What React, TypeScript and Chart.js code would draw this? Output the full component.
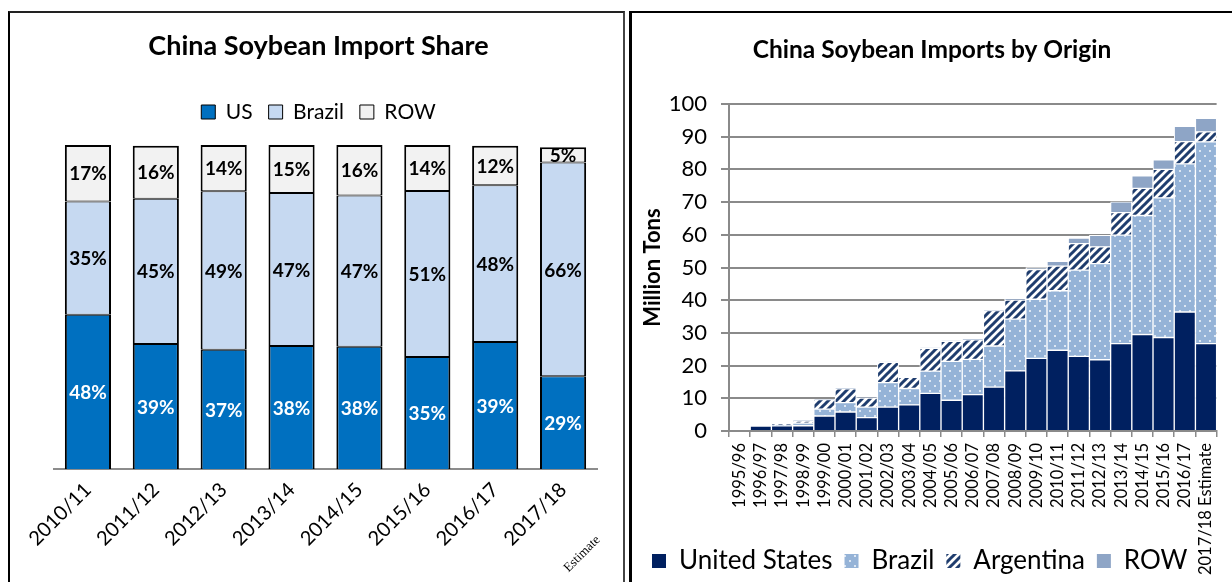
import React, { useEffect, useRef } from 'react';
import { Chart, registerables } from 'chart.js';

Chart.register(...registerables);

// ---------- Data: China Soybean Import Share (%) ----------
const shareCategories = ['2010/11', '2011/12', '2012/13', '2013/14', '2014/15', '2015/16', '2016/17', '2017/18'];
const shareSeriesNames = ['US', 'Brazil', 'ROW'];
const shareUS = [47.6, 38.6, 36.8, 38.0, 37.7, 34.6, 39.2, 28.6];
const shareBrazil = [35.0, 44.8, 48.9, 47.2, 46.7, 51.2, 48.4, 66.0];
const shareROW = [17.4, 16.4, 14.3, 14.8, 15.6, 14.2, 12.2, 4.7];
const shareNote = 'Estimate';

// ---------- Data: China Soybean Imports by Origin (million tons) ----------
const originCategories = [
  '1995/96', '1996/97', '1997/98', '1998/99', '1999/00', '2000/01', '2001/02', '2002/03',
  '2003/04', '2004/05', '2005/06', '2006/07', '2007/08', '2008/09', '2009/10', '2010/11',
  '2011/12', '2012/13', '2013/14', '2014/15', '2015/16', '2016/17', '2017/18 Estimate',
];
const originSeriesNames = ['United States', 'Brazil', 'Argentina', 'ROW'];
const originUS = [0, 1.5, 1.6, 1.6, 4.6, 5.8, 4.1, 7.3, 8.0, 11.5, 9.4, 11.1, 13.4, 18.4, 22.2, 24.7, 22.8, 21.8, 26.7, 29.5, 28.6, 36.4, 26.7];
const originBrazil = [0, 0, 0.3, 0.8, 2.1, 2.9, 3.2, 7.5, 5.0, 6.8, 11.9, 10.8, 12.6, 15.8, 18.1, 18.2, 26.4, 29.4, 33.2, 36.4, 42.7, 45.3, 61.7];
const originArgentina = [0, 0, 0.3, 0.6, 2.9, 4.2, 2.8, 6.2, 3.4, 7.0, 6.1, 6.0, 10.8, 5.8, 9.1, 7.5, 8.1, 5.1, 6.9, 8.3, 8.7, 6.8, 3.1];
const originROW = [0, 0, 0, 0.2, 0.1, 0.1, 0.1, 0.1, 0, 0.1, 0.2, 0.2, 0.2, 0.4, 0.6, 1.5, 1.7, 3.5, 3.3, 3.8, 2.9, 4.7, 4.1];
const originYMin = 0;
const originYMax = 100;
const originYStep = 10;

const FONT = "Lato, 'Open Sans', 'DejaVu Sans', sans-serif";
Chart.defaults.font.family = FONT;
Chart.defaults.color = '#000';

const segmentLabels = {
  id: 'segmentLabels',
  afterDatasetsDraw(chart: any) {
    const ctx = chart.ctx;
    ctx.save();
    ctx.font = `bold 19px ${FONT}`;
    ctx.textAlign = 'center';
    ctx.textBaseline = 'middle';
    chart.data.datasets.forEach((ds: any, di: number) => {
      const meta = chart.getDatasetMeta(di);
      meta.data.forEach((el: any, i: number) => {
        const { x, y, base } = el.getProps(['x', 'y', 'base'], true);
        ctx.fillStyle = ds.labelColor;
        ctx.fillText(`${Math.round(ds.data[i])}%`, x, (y + base) / 2 + 1);
      });
    });
    ctx.restore();
  },
};

const estimateNote = {
  id: 'estimateNote',
  afterDraw(chart: any) {
    const xs = chart.scales.x;
    const x = xs.getPixelForTick(shareCategories.length - 1);
    const ctx = chart.ctx;
    ctx.save();
    ctx.translate(x + 19, xs.top + 85);
    ctx.rotate(-Math.PI / 4);
    ctx.font = "13px 'Liberation Serif', 'DejaVu Serif', serif";
    ctx.fillStyle = '#000';
    ctx.textAlign = 'center';
    ctx.textBaseline = 'middle';
    ctx.fillText(shareNote, 0, 0);
    ctx.restore();
  },
};

function ShareChart() {
  const ref = useRef<HTMLCanvasElement>(null);
  useEffect(() => {
    const W = 612, H = 569;
    const plotTop = 132, plotBottom = 456;
    const titleSize = 27, titleCenter = 33;
    const legendSize = 21, legendCenter = 99, legendPad = 16;
    const titleLH = titleSize * 1.2;
    const titlePadTop = titleCenter - titleLH / 2;
    const legendTop = legendCenter - legendPad - legendSize / 2;
    const titlePadBottom = legendTop - titlePadTop - titleLH;
    const legendBottom = legendTop + legendSize + legendPad + 10;
    const gap = plotTop - legendBottom;
    const canvas = ref.current!;
    canvas.width = W;
    canvas.height = H;
    const colors = ['#0070C0', '#C6D9F1', '#F2F2F2'];
    const chart = new Chart(canvas, {
      type: 'bar',
      data: {
        labels: shareCategories,
        datasets: [
          { label: shareSeriesNames[0], data: shareUS, backgroundColor: colors[0], borderColor: '#000', borderWidth: { top: 1, left: 2, right: 2, bottom: 0 }, borderSkipped: false, labelColor: '#fff' } as any,
          { label: shareSeriesNames[1], data: shareBrazil, backgroundColor: colors[1], borderColor: '#000', borderWidth: { top: 1, left: 2, right: 2, bottom: 1 }, borderSkipped: false, labelColor: '#000' } as any,
          { label: shareSeriesNames[2], data: shareROW, backgroundColor: colors[2], borderColor: '#000', borderWidth: { top: 2, left: 2, right: 2, bottom: 1 }, borderSkipped: false, labelColor: '#000' } as any,
        ],
      },
      options: {
        responsive: false,
        animation: false,
        devicePixelRatio: 1,
        layout: { padding: { left: 30, right: 25, top: 0, bottom: 0 } },
        datasets: { bar: { barPercentage: 0.68, categoryPercentage: 1 } },
        plugins: {
          tooltip: { enabled: false },
          title: {
            display: true,
            text: 'China Soybean Import Share',
            color: '#000',
            font: { size: titleSize, weight: 'bold', family: FONT },
            padding: { top: titlePadTop, bottom: titlePadBottom },
          },
          legend: {
            position: 'top',
            labels: {
              color: '#000',
              font: { size: legendSize, family: FONT },
              boxWidth: 14,
              boxHeight: 14,
              padding: legendPad,
              generateLabels: (c: any) =>
                c.data.datasets.map((ds: any, i: number) => ({
                  text: ds.label,
                  fillStyle: ds.backgroundColor,
                  strokeStyle: '#000',
                  lineWidth: 1,
                  hidden: false,
                  datasetIndex: i,
                  fontColor: '#000',
                })),
            },
          },
        },
        scales: {
          x: {
            stacked: true,
            grid: { display: false, drawTicks: false },
            border: { display: true, color: '#8c8c8c', width: 2 },
            ticks: { color: '#000', font: { size: 20, family: FONT }, minRotation: 45, maxRotation: 45, padding: 9, autoSkip: false },
            afterFit: (s: any) => { s.height = H - plotBottom; },
          },
          pad: {
            type: 'category',
            position: 'top',
            grid: { display: false, drawTicks: false },
            border: { display: false },
            ticks: { display: false },
            afterFit: (s: any) => { s.height = gap; },
          },
          y: {
            stacked: true,
            min: 0,
            max: 100,
            grid: { display: false, drawTicks: false },
            border: { display: false },
            ticks: { display: false },
            afterFit: (s: any) => { s.width = 14; },
          },
        } as any,
      },
      plugins: [segmentLabels, estimateNote],
    });
    return () => chart.destroy();
  }, []);
  return <canvas ref={ref} style={{ position: 'absolute', left: 10, top: 13, width: 612, height: 569 }} />;
}

function makeDotPattern() {
  const c = document.createElement('canvas');
  c.width = 10;
  c.height = 10;
  const g = c.getContext('2d')!;
  g.fillStyle = '#95B3D7';
  g.fillRect(0, 0, 10, 10);
  g.fillStyle = '#DDE7F3';
  g.fillRect(2, 2, 2, 2);
  g.fillRect(7, 7, 2, 2);
  return g.createPattern(c, 'repeat')!;
}

function makeStripePattern() {
  const s = 8;
  const c = document.createElement('canvas');
  c.width = s;
  c.height = s;
  const g = c.getContext('2d')!;
  g.fillStyle = '#ffffff';
  g.fillRect(0, 0, s, s);
  g.strokeStyle = '#1F3D6E';
  g.lineWidth = 3;
  g.beginPath();
  g.moveTo(-2, s + 2); g.lineTo(s + 2, -2);
  g.moveTo(-2 - s / 2, s / 2 + 2); g.lineTo(s / 2 + 2, -s / 2 - 2);
  g.moveTo(s / 2 - 2, s * 1.5 + 2); g.lineTo(s * 1.5 + 2, s / 2 - 2);
  g.stroke();
  return g.createPattern(c, 'repeat')!;
}

function OriginChart() {
  const ref = useRef<HTMLCanvasElement>(null);
  useEffect(() => {
    const W = 600, H = 571;
    const plotTop = 91, plotBottom = 418;
    const titleSize = 24.5, titleCenter = 37;
    const legendSize = 26, legendPad = 12;
    const titleLH = titleSize * 1.2;
    const titlePadTop = titleCenter - titleLH / 2;
    const titlePadBottom = plotTop - titlePadTop - titleLH;
    const legendHeight = legendSize + legendPad + 10;
    const xAxisH = H - legendHeight - plotBottom;
    const canvas = ref.current!;
    canvas.width = W;
    canvas.height = H;
    const gray = '#8a8a8a';
    const fills = ['#002060', makeDotPattern(), makeStripePattern(), '#8EA5C6'];
    const series = [originUS, originBrazil, originArgentina, originROW];
    const chart = new Chart(canvas, {
      type: 'bar',
      data: {
        labels: originCategories,
        datasets: series.map((d, i) => ({
          label: originSeriesNames[i],
          data: d,
          backgroundColor: fills[i] as any,
          borderColor: '#ffffff',
          borderWidth: 1,
          borderSkipped: i === 0 ? 'start' : false,
        })) as any,
      },
      options: {
        responsive: false,
        animation: false,
        devicePixelRatio: 1,
        layout: { padding: { left: 8, right: 8, top: 0, bottom: 0 } },
        datasets: { bar: { barPercentage: 1, categoryPercentage: 1 } },
        plugins: {
          tooltip: { enabled: false },
          title: {
            display: true,
            text: 'China Soybean Imports by Origin',
            color: '#000',
            font: { size: titleSize, weight: 'bold', family: FONT },
            padding: { top: titlePadTop, bottom: titlePadBottom },
          },
          legend: {
            position: 'bottom',
            align: 'start',
            labels: {
              color: '#000',
              font: { size: legendSize, family: FONT },
              boxWidth: 14,
              boxHeight: 14,
              padding: legendPad,
              generateLabels: (c: any) =>
                c.data.datasets.map((ds: any, i: number) => ({
                  text: ds.label,
                  fillStyle: ds.backgroundColor,
                  strokeStyle: 'rgba(0,0,0,0)',
                  lineWidth: 0,
                  hidden: false,
                  datasetIndex: i,
                  fontColor: '#000',
                })),
            },
          },
        },
        scales: {
          x: {
            stacked: true,
            grid: { display: true, drawOnChartArea: false, drawTicks: true, tickLength: 6, color: gray, lineWidth: 1.5, offset: true },
            border: { display: true, color: gray, width: 2 },
            ticks: {
              color: '#000',
              font: { size: 16.5, family: FONT },
              minRotation: 90,
              maxRotation: 90,
              autoSkip: false,
              padding: 6,
            },
            afterFit: (s: any) => {
              s.height = xAxisH;
              // let the long rotated labels run down beside the legend, as in the original
              s._computeLabelArea = () => undefined;
            },
          },
          y: {
            stacked: true,
            min: originYMin,
            max: originYMax,
            ticks: { stepSize: originYStep, color: '#000', font: { size: 22, family: FONT }, padding: 14 },
            grid: { color: gray, lineWidth: 2, tickLength: 8, drawTicks: true },
            border: { display: true, color: gray, width: 2 },
            title: { display: true, text: 'Million Tons', color: '#000', font: { size: 22, weight: 'bold', family: FONT }, padding: { top: 0, bottom: 0 } },
            afterFit: (s: any) => { s.width = 89; },
          },
        } as any,
      },
    });
    return () => chart.destroy();
  }, []);
  return <canvas ref={ref} style={{ position: 'absolute', left: 632, top: 13, width: 600, height: 571 }} />;
}

export default function App() {
  return (
    <div style={{ position: 'fixed', left: 0, top: 0, width: 1232, height: 582, overflow: 'hidden', background: '#fff' }}>
      <div style={{ position: 'absolute', left: 8, top: 11, width: 617, height: 700, boxSizing: 'border-box', borderTop: '2px solid #222', borderLeft: '2px solid #000', borderRight: '2px solid #444' }} />
      <div style={{ position: 'absolute', left: 629, top: 11, width: 700, height: 700, boxSizing: 'border-box', borderTop: '2px solid #000', borderLeft: '3px solid #000' }} />
      <ShareChart />
      <OriginChart />
    </div>
  );
}
